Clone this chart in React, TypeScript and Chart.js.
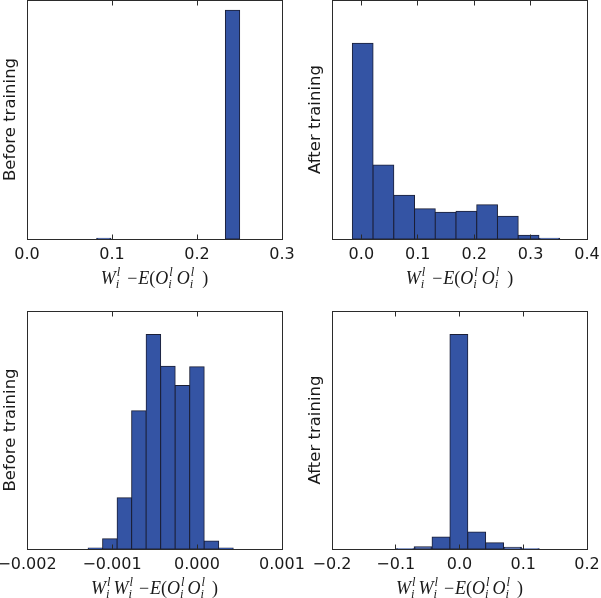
import React, { useEffect, useRef } from 'react';
import { Chart, registerables } from 'chart.js';

Chart.register(...registerables);

const PAGE_W = 601;
const PAGE_H = 598;

// ---------- Data ----------
// Top-left: before training, W - E(OO)
const beforeWCenters = [0.0904, 0.1072, 0.124, 0.1409, 0.1577, 0.1745, 0.1913, 0.2082, 0.225, 0.2418];
const beforeWCounts = [3, 0, 0, 0, 0, 0, 0, 0, 0, 1000];
const beforeWTicks = [0.0, 0.1, 0.2, 0.3];
const beforeWTickLabels = ['0.0', '0.1', '0.2', '0.3'];

// Top-right: after training, W - E(OO)
const afterWCenters = [0.00243, 0.03918, 0.07593, 0.11268, 0.14943, 0.18618, 0.22293, 0.25968, 0.29643, 0.33318];
const afterWCounts = [587, 222, 131, 91, 80, 83, 103, 68, 11, 2];
const afterWTicks = [0.0, 0.1, 0.2, 0.3, 0.4];
const afterWTickLabels = ['0.0', '0.1', '0.2', '0.3', '0.4'];

// Bottom-left: before training, WW - E(OO)
const beforeWWCenters = [-0.0011957, -0.001025, -0.0008543, -0.0006836, -0.0005129, -0.0003422, -0.0001715, -0.0000008, 0.0001699, 0.0003406];
const beforeWWCounts = [3, 31, 154, 416, 645, 550, 492, 548, 24, 3];
const beforeWWTicks = [-0.002, -0.001, 0.0, 0.001];
const beforeWWTickLabels = ['\u22120.002', '\u22120.001', '0.000', '0.001'];

// Bottom-right: after training, WW - E(OO)
const afterWWCenters = [-0.0851, -0.0571, -0.029, -0.001, 0.027, 0.0551, 0.0831, 0.1111];
const afterWWCounts = [1, 7, 36, 645, 51, 19, 5, 1];
const afterWWTicks = [-0.2, -0.1, 0.0, 0.1, 0.2];
const afterWWTickLabels = ['\u22120.2', '\u22120.1', '0.0', '0.1', '0.2'];

const yLabels = ['Before training', 'After training'];

// ---------- Math label tokens ----------
type Tok = { t?: string; it?: boolean; sup?: string; sub?: string; sp?: number };
const scr: Tok = { sup: 'l', sub: 'i' };
const labelSingle: Tok[] = [
  { t: 'W', it: true }, scr, { sp: 7 }, { t: '\u2212' }, { sp: 1 }, { t: 'E', it: true }, { t: '(' },
  { t: 'O', it: true }, scr, { sp: 4 }, { t: 'O', it: true }, scr, { sp: 8 }, { t: ')' },
];
const labelDouble: Tok[] = [
  { t: 'W', it: true }, scr, { sp: 3 }, { t: 'W', it: true }, scr, { sp: 6 }, { t: '\u2212' }, { sp: 1 },
  { t: 'E', it: true }, { t: '(' }, { t: 'O', it: true }, scr, { sp: 3 }, { t: 'O', it: true }, scr, { sp: 7 }, { t: ')' },
];

const BIG = 18;
const SMALL = 12.5;
const SERIF = '"Liberation Serif", "DejaVu Serif", serif';

function drawMath(ctx: CanvasRenderingContext2D, toks: Tok[], cx: number, base: number) {
  const widths: number[] = [];
  for (const tk of toks) {
    if (tk.sp !== undefined) widths.push(tk.sp);
    else if (tk.t !== undefined) {
      ctx.font = `${tk.it ? 'italic ' : ''}${BIG}px ${SERIF}`;
      widths.push(ctx.measureText(tk.t).width);
    } else {
      ctx.font = `italic ${SMALL}px ${SERIF}`;
      widths.push(Math.max(ctx.measureText(tk.sup || '').width, ctx.measureText(tk.sub || '').width) + 1);
    }
  }
  const total = widths.reduce((a, b) => a + b, 0);
  let x = cx - total / 2;
  ctx.fillStyle = '#1a1a1a';
  ctx.textBaseline = 'alphabetic';
  ctx.textAlign = 'left';
  toks.forEach((tk, i) => {
    if (tk.t !== undefined) {
      ctx.font = `${tk.it ? 'italic ' : ''}${BIG}px ${SERIF}`;
      ctx.fillText(tk.t, x, base);
    } else if (tk.sp === undefined) {
      ctx.font = `italic ${SMALL}px ${SERIF}`;
      ctx.fillText(tk.sup || '', x + 1, base - 8);
      ctx.fillText(tk.sub || '', x, base + 4);
    }
    x += widths[i];
  });
}

const framePlugin = {
  id: 'frameMath',
  afterDraw(chart: any, _args: any, opts: any) {
    const ctx: CanvasRenderingContext2D = chart.ctx;
    const { left, right, top, bottom } = chart.chartArea;
    const xs = chart.scales.x;
    ctx.save();
    ctx.strokeStyle = '#2b2b2b';
    ctx.lineWidth = 1;
    const l = Math.floor(left) + 0.5;
    const r = Math.floor(right) + 0.5;
    const t = Math.floor(top) + 0.5;
    const b = Math.floor(bottom) + 0.5;
    ctx.strokeRect(l, t, r - l, b - t);
    ctx.beginPath();
    for (const v of opts.ticks as number[]) {
      const px = Math.floor(xs.getPixelForValue(v)) + 0.5;
      ctx.moveTo(px, t);
      ctx.lineTo(px, t + 5);
      ctx.moveTo(px, b);
      ctx.lineTo(px, b - 5);
    }
    ctx.stroke();
    drawMath(ctx, opts.tokens, (left + right) / 2, bottom + 45);
    ctx.restore();
  },
};

type Panel = {
  centers: number[];
  counts: number[];
  ticks: number[];
  tickLabels: string[];
  xMin: number;
  xMax: number;
  yMax: number;
  yLabel: string;
  tokens: Tok[];
  area: { left: number; right: number; top: number; bottom: number };
};

const panels: Panel[] = [
  {
    centers: beforeWCenters, counts: beforeWCounts, ticks: beforeWTicks, tickLabels: beforeWTickLabels,
    xMin: 0, xMax: 0.3, yMax: 1045, yLabel: yLabels[0], tokens: labelSingle,
    area: { left: 27, right: 282, top: 0, bottom: 239 },
  },
  {
    centers: afterWCenters, counts: afterWCounts, ticks: afterWTicks, tickLabels: afterWTickLabels,
    xMin: -0.052, xMax: 0.4, yMax: 717, yLabel: yLabels[1], tokens: labelSingle,
    area: { left: 332, right: 587, top: 0, bottom: 239 },
  },
  {
    centers: beforeWWCenters, counts: beforeWWCounts, ticks: beforeWWTicks, tickLabels: beforeWWTickLabels,
    xMin: -0.002, xMax: 0.001, yMax: 716, yLabel: yLabels[0], tokens: labelDouble,
    area: { left: 27, right: 282, top: 311, bottom: 549 },
  },
  {
    centers: afterWWCenters, counts: afterWWCounts, ticks: afterWWTicks, tickLabels: afterWWTickLabels,
    xMin: -0.2, xMax: 0.2, yMax: 716, yLabel: yLabels[1], tokens: labelDouble,
    area: { left: 332, right: 587, top: 311, bottom: 549 },
  },
];

const Y_W = 27;
const X_H = 40;

function HistPanel({ p }: { p: Panel }) {
  const ref = useRef<HTMLCanvasElement | null>(null);
  useEffect(() => {
    if (!ref.current) return;
    const chart = new Chart(ref.current, {
      type: 'bar',
      data: {
        datasets: [
          {
            data: p.centers.map((c, i) => ({ x: c, y: p.counts[i] })),
            backgroundColor: '#3454a4',
            borderColor: '#1b1f36',
            borderWidth: 1,
            borderSkipped: false,
            inflateAmount: 0.5,
            barPercentage: 1,
            categoryPercentage: 1,
          } as any,
        ],
      },
      options: {
        animation: false,
        responsive: false,
        maintainAspectRatio: false,
        events: [],
        layout: {
          padding: {
            left: p.area.left - Y_W,
            top: p.area.top,
            right: PAGE_W - p.area.right,
            bottom: PAGE_H - p.area.bottom - X_H,
          },
        },
        plugins: {
          legend: { display: false },
          tooltip: { enabled: false },
          frameMath: { ticks: p.ticks, tokens: p.tokens },
        } as any,
        scales: {
          x: {
            type: 'linear',
            min: p.xMin,
            max: p.xMax,
            offset: false,
            grid: { display: false, offset: false },
            border: { display: false },
            afterBuildTicks: (s: any) => {
              s.ticks = p.ticks.map((v) => ({ value: v }));
            },
            afterFit: (s: any) => {
              s.height = X_H;
              s.paddingLeft = 0;
              s.paddingRight = 0;
            },
            ticks: {
              autoSkip: false,
              maxRotation: 0,
              minRotation: 0,
              padding: -2,
              color: '#1a1a1a',
              font: { family: '"DejaVu Sans", sans-serif', size: 16 },
              callback: (_v: any, i: number) => p.tickLabels[i],
            },
          },
          y: {
            min: 0,
            max: p.yMax,
            grid: { display: false },
            border: { display: false },
            ticks: { display: false },
            afterFit: (s: any) => {
              s.width = Y_W;
              s.paddingTop = 0;
              s.paddingBottom = 0;
            },
            title: {
              display: true,
              text: p.yLabel,
              color: '#1a1a1a',
              padding: { top: 1, bottom: 0 },
              font: { family: '"DejaVu Sans", sans-serif', size: 16.5, weight: 'normal' },
            },
          },
        },
      } as any,
      plugins: [framePlugin as any],
    });
    return () => chart.destroy();
  }, [p]);
  return (
    <canvas
      ref={ref}
      width={PAGE_W}
      height={PAGE_H}
      style={{ position: 'absolute', left: 0, top: 0, width: PAGE_W, height: PAGE_H }}
    />
  );
}

export default function App() {
  return (
    <div
      style={{
        position: 'fixed',
        left: 0,
        top: 0,
        width: PAGE_W,
        height: PAGE_H,
        background: '#ffffff',
        overflow: 'hidden',
      }}
    >
      {panels.map((p, i) => (
        <HistPanel key={i} p={p} />
      ))}
    </div>
  );
}
